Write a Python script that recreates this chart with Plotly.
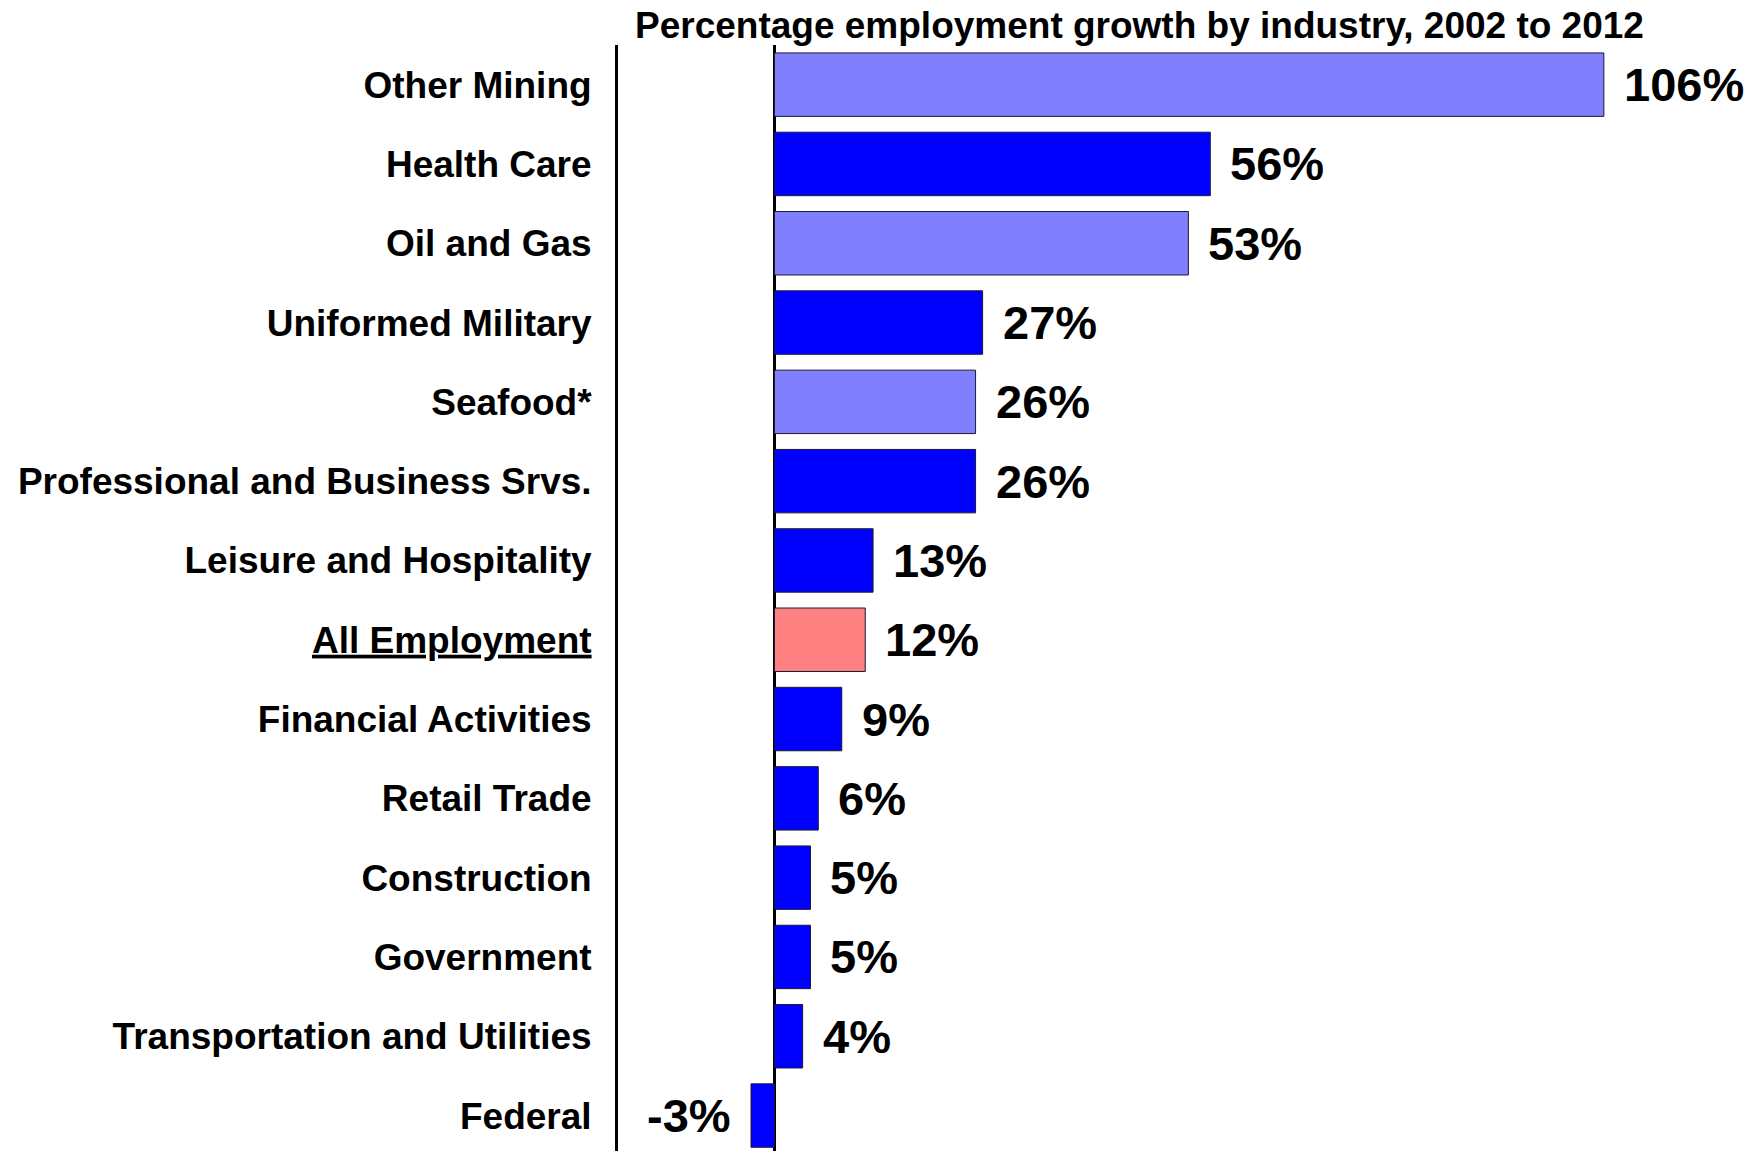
import plotly.graph_objects as go

categories = ["Other Mining", "Health Care", "Oil and Gas", "Uniformed Military", "Seafood*",
              "Professional and Business Srvs.", "Leisure and Hospitality", "All Employment",
              "Financial Activities", "Retail Trade", "Construction", "Government",
              "Transportation and Utilities", "Federal"]
values = [106, 55.7, 52.9, 26.6, 25.7, 25.7, 12.6, 11.6, 8.6, 5.6, 4.6, 4.6, 3.6, -3.0]
value_labels = ["106%", "56%", "53%", "27%", "26%", "26%", "13%", "12%", "9%", "6%", "5%", "5%", "4%", "-3%"]
groups = ["resource", "other", "resource", "other", "resource", "other", "other", "total",
          "other", "other", "other", "other", "other", "other"]
group_colors = {"resource": "#8080FF", "other": "#0000FF", "total": "#FF8080"}
title = "Percentage employment growth by industry, 2002 to 2012"

tick_text = [f'<span style="text-decoration:underline">{c}</span>' if g == "total" else c
             for c, g in zip(categories, groups)]

FONT = "Liberation Sans, Arial, sans-serif"

W, H = 1758, 1151
ML, MR, MT, MB = 618, 0, 45, 0
pw, ph = W - ML - MR, H - MT - MB

fig = go.Figure()
fig.add_trace(go.Bar(
    x=values, y=categories, orientation="h",
    marker=dict(color=[group_colors[g] for g in groups], line=dict(color="#1a1a33", width=1)),
    width=0.8, hoverinfo="skip",
))

for v, c, t in zip(values, categories, value_labels):
    fig.add_annotation(x=v, y=c, text=f"<b>{t}</b>", showarrow=False,
                       xanchor="left" if v >= 0 else "right",
                       xshift=18 if v >= 0 else -18, yanchor="middle",
                       font=dict(family=FONT, size=47, color="black"))

fig.add_annotation(x=(1139 - ML) / pw, y=1 + (MT - 25) / ph, xref="paper", yref="paper",
                   text=f"<b>{title}</b>", showarrow=False, xanchor="center", yanchor="middle",
                   font=dict(family=FONT, size=37, color="black"))

fig.update_layout(
    width=W, height=H,
    margin=dict(l=ML, r=MR, t=MT, b=MB, pad=0),
    plot_bgcolor="white", paper_bgcolor="white",
    showlegend=False,
    xaxis=dict(range=[-20, 125.7], showgrid=False, showticklabels=False, ticks="",
               zeroline=True, zerolinecolor="black", zerolinewidth=3, showline=False,
               layer="above traces", fixedrange=True),
    yaxis=dict(categoryorder="array", categoryarray=categories, range=[13.447, -0.5],
               tickmode="array", tickvals=categories, ticktext=tick_text,
               showgrid=False, showline=True, linecolor="black", linewidth=3,
               ticks="", ticklabelstandoff=16,
               tickfont=dict(family=FONT, size=37, color="black", weight="bold"),
               fixedrange=True),
)

fig.write_html("out.html", config={"displayModeBar": False},
               post_script="document.body.style.margin='0';document.body.style.overflow='hidden';")
